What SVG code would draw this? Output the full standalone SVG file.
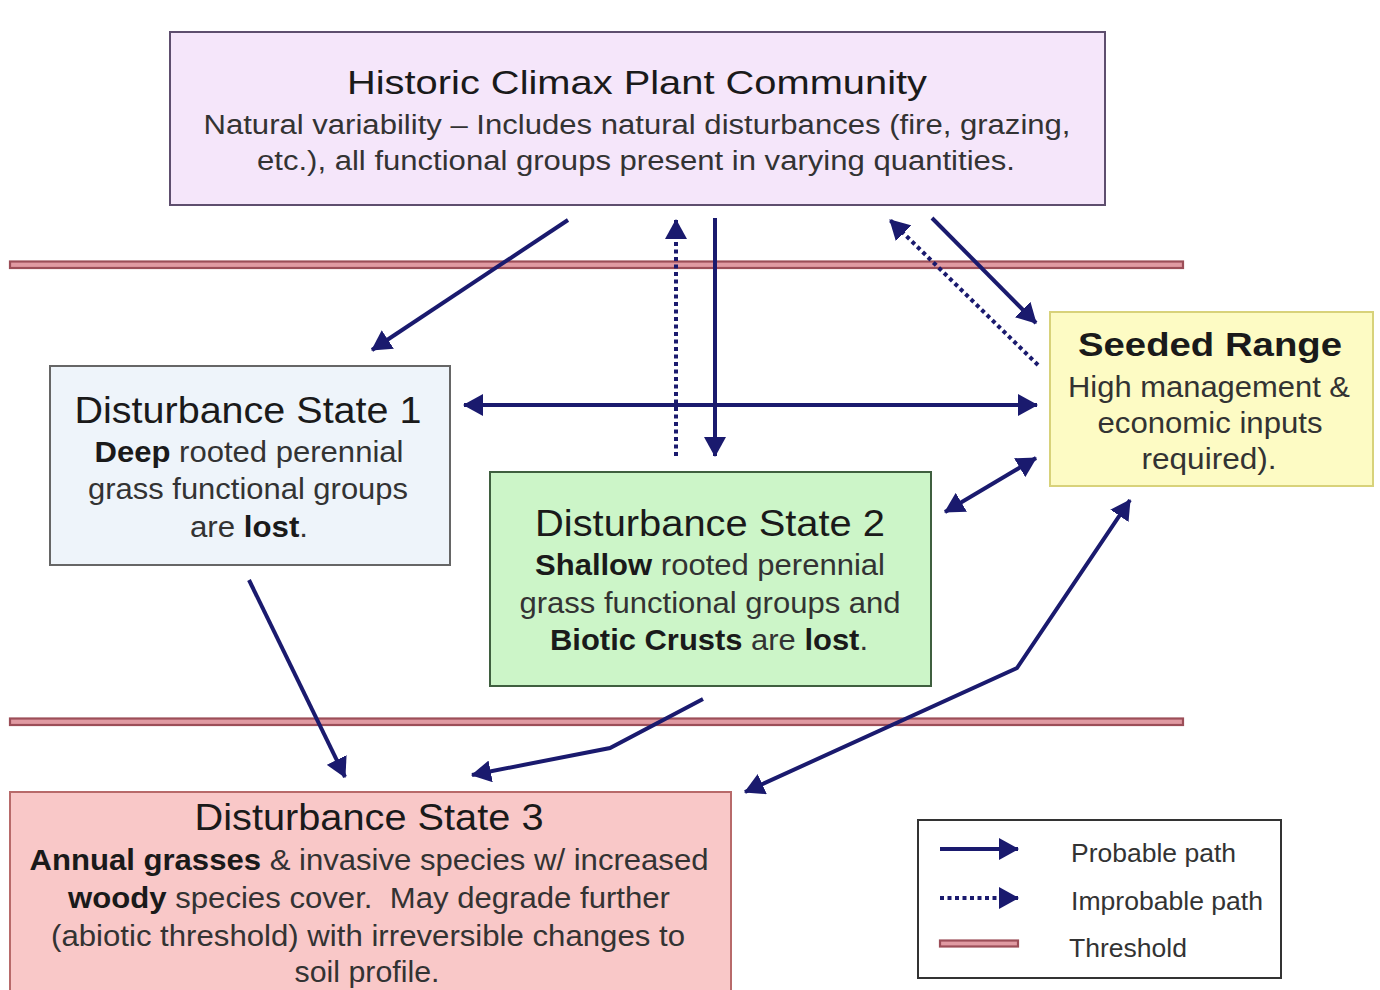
<svg xmlns="http://www.w3.org/2000/svg" width="1380" height="990" viewBox="0 0 1380 990">
<defs>
<marker id="ah" viewBox="0 0 20 22" refX="19" refY="11" markerWidth="20" markerHeight="22" markerUnits="userSpaceOnUse" orient="auto-start-reverse">
<path d="M0,0 L20,11 L0,22 z" fill="#1a1a6e"/>
</marker>
<style>
.t{font-family:"Liberation Sans",Arial,sans-serif;fill:#1a1a1a;text-anchor:middle}
.b{font-family:"Liberation Sans",Arial,sans-serif;fill:#333;text-anchor:middle}
.bb{font-weight:bold;fill:#1a1a1a}
.lg{font-family:"Liberation Sans",Arial,sans-serif;fill:#333;font-size:25px}
.c{fill:none;stroke:#1a1a6e;stroke-width:4}
.d{fill:none;stroke:#1a1a6e;stroke-width:4;stroke-dasharray:4 3.5}
.th{fill:#e09aa2;stroke:#9c4e58;stroke-width:2.2}
</style>
</defs>
<rect width="1380" height="990" fill="#ffffff"/>

<g id="thresholds">
<rect class="th" x="10" y="261.5" width="1173" height="6.5"/>
<rect class="th" x="10" y="718.5" width="1173" height="6.5"/>
</g>

<g id="hcpc">
<rect x="170" y="32" width="935" height="173" fill="#f5e6fa" stroke="#5e4e6e" stroke-width="2"/>
<text class="t" x="637" y="94" font-size="34" textLength="580" lengthAdjust="spacingAndGlyphs">Historic Climax Plant Community</text>
<text class="b" x="637" y="134" font-size="27" textLength="867" lengthAdjust="spacingAndGlyphs">Natural variability – Includes natural disturbances (fire, grazing,</text>
<text class="b" x="636" y="170" font-size="27" textLength="758" lengthAdjust="spacingAndGlyphs">etc.), all functional groups present in varying quantities.</text>
</g>

<g id="ds1">
<rect x="50" y="366" width="400" height="199" fill="#eef4fa" stroke="#666" stroke-width="2"/>
<text class="t" x="248" y="423" font-size="37" textLength="347" lengthAdjust="spacingAndGlyphs">Disturbance State 1</text>
<text class="b" x="249" y="462" font-size="30" textLength="309" lengthAdjust="spacingAndGlyphs"><tspan class="bb">Deep</tspan> rooted perennial</text>
<text class="b" x="248" y="499" font-size="30" textLength="320" lengthAdjust="spacingAndGlyphs">grass functional groups</text>
<text class="b" x="249" y="537" font-size="30" textLength="118" lengthAdjust="spacingAndGlyphs">are <tspan class="bb">lost</tspan>.</text>
</g>

<g id="ds2">
<rect x="490" y="472" width="441" height="214" fill="#ccf5c8" stroke="#3f5f3f" stroke-width="2"/>
<text class="t" x="710" y="536" font-size="37" textLength="350" lengthAdjust="spacingAndGlyphs">Disturbance State 2</text>
<text class="b" x="710" y="575" font-size="30" textLength="350" lengthAdjust="spacingAndGlyphs"><tspan class="bb">Shallow</tspan> rooted perennial</text>
<text class="b" x="710" y="613" font-size="30" textLength="381" lengthAdjust="spacingAndGlyphs">grass functional groups and</text>
<text class="b" x="709" y="650" font-size="30" textLength="318" lengthAdjust="spacingAndGlyphs"><tspan class="bb">Biotic Crusts</tspan> are <tspan class="bb">lost</tspan>.</text>
</g>

<g id="seeded">
<rect x="1050" y="312" width="323" height="174" fill="#fdfbc4" stroke="#d8d27a" stroke-width="2"/>
<text class="t" x="1210" y="356" font-size="34" font-weight="bold" textLength="264" lengthAdjust="spacingAndGlyphs">Seeded Range</text>
<text class="b" x="1209" y="397" font-size="29" textLength="282" lengthAdjust="spacingAndGlyphs">High management &amp;</text>
<text class="b" x="1210" y="433" font-size="29" textLength="225" lengthAdjust="spacingAndGlyphs">economic inputs</text>
<text class="b" x="1209" y="469" font-size="29" textLength="135" lengthAdjust="spacingAndGlyphs">required).</text>
</g>

<g id="ds3">
<rect x="10" y="792" width="721" height="210" fill="#f9c8c8" stroke="#b86a6a" stroke-width="2"/>
<text class="t" x="369" y="830" font-size="36" textLength="349" lengthAdjust="spacingAndGlyphs">Disturbance State 3</text>
<text class="b" x="369" y="870" font-size="29" textLength="679" lengthAdjust="spacingAndGlyphs"><tspan class="bb">Annual grasses</tspan> &amp; invasive species w/ increased</text>
<text class="b" x="369" y="908" font-size="29" textLength="602" lengthAdjust="spacingAndGlyphs"><tspan class="bb">woody</tspan> species cover.&#160; May degrade further</text>
<text class="b" x="368" y="946" font-size="29" textLength="634" lengthAdjust="spacingAndGlyphs">(abiotic threshold) with irreversible changes to</text>
<text class="b" x="367" y="982" font-size="29" textLength="145" lengthAdjust="spacingAndGlyphs">soil profile.</text>
</g>

<g id="connectors">
<line class="c" x1="568" y1="220" x2="372" y2="350" marker-end="url(#ah)"/>
<line class="d" x1="676" y1="456" x2="676" y2="220" marker-end="url(#ah)"/>
<line class="c" x1="715" y1="218" x2="715" y2="456" marker-end="url(#ah)"/>
<line class="d" x1="1038" y1="365" x2="890" y2="220" marker-end="url(#ah)"/>
<line class="c" x1="932" y1="218" x2="1036" y2="323" marker-end="url(#ah)"/>
<line class="c" x1="464" y1="405" x2="1037" y2="405" marker-start="url(#ah)" marker-end="url(#ah)"/>
<line class="c" x1="945" y1="512" x2="1036" y2="458" marker-start="url(#ah)" marker-end="url(#ah)"/>
<line class="c" x1="249" y1="580" x2="345" y2="777" marker-end="url(#ah)"/>
<polyline class="c" points="703,699 610,748 472,775" marker-end="url(#ah)"/>
<polyline class="c" points="745,792 1017,668 1130,500" marker-start="url(#ah)" marker-end="url(#ah)"/>
</g>

<g id="legend">
<rect x="918" y="820" width="363" height="158" fill="#ffffff" stroke="#333" stroke-width="2"/>
<line class="c" x1="940" y1="849" x2="1018" y2="849" marker-end="url(#ah)"/>
<line class="d" x1="940" y1="898" x2="1018" y2="898" marker-end="url(#ah)"/>
<rect class="th" x="940" y="940.5" width="78" height="6"/>
<text class="lg" x="1071" y="862" textLength="165" lengthAdjust="spacingAndGlyphs">Probable path</text>
<text class="lg" x="1071" y="910" textLength="192" lengthAdjust="spacingAndGlyphs">Improbable path</text>
<text class="lg" x="1069" y="957" textLength="118" lengthAdjust="spacingAndGlyphs">Threshold</text>
</g>
</svg>
